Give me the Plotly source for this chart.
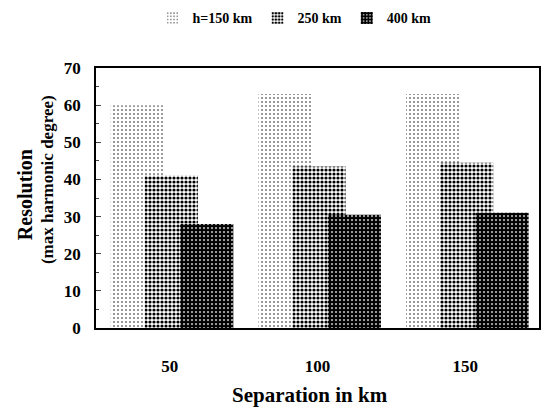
import plotly.graph_objects as go

categories = ["50", "100", "150"]
series_names = ["h=150 km", "250 km", "400 km"]
h150 = [60, 63, 63]
h250 = [41, 43.5, 44.5]
h400 = [28, 30.5, 31]

values = [h150, h250, h400]
offsets = [-0.40, -0.17, 0.07]
fgcols = ["#777777", "black", "black"]
solid = [0.2, 0.5, 0.8]
sizes = [4, 4, 4]

fig = go.Figure()
for name, v, off, fc, s, sz in zip(series_names, values, offsets, fgcols, solid, sizes):
    fig.add_trace(go.Bar(
        x=categories, y=v, name=name, offset=off, width=0.36,
        marker=dict(color="white", line=dict(width=0),
                    pattern=dict(shape=".", fgcolor=fc, bgcolor="white",
                                 solidity=s, size=sz, fillmode="replace")),
    ))

font = "Liberation Serif"
fig.update_layout(
    barmode="overlay",
    width=543, height=407,
    margin=dict(l=96, r=4, t=68, b=79, autoexpand=False),
    paper_bgcolor="white", plot_bgcolor="white",
    font=dict(family=font, color="black"),
    showlegend=True,
    legend=dict(orientation="h", x=0.448, xanchor="center", yref="container",
                y=0.955, yanchor="middle",
                font=dict(size=14, family=font, weight="bold"),
                itemwidth=30, traceorder="normal"),
    xaxis=dict(showline=True, linecolor="black", linewidth=1.5, mirror=True,
               ticks="", tickfont=dict(size=17, weight="bold"),
               ticklabelstandoff=22, automargin=False,
               range=[-0.5, 2.5]),
    yaxis=dict(showline=True, linecolor="black", linewidth=1.5, mirror=True,
               range=[0, 70], dtick=10, ticks="inside", ticklen=5,
               minor=dict(dtick=5, ticks="inside", ticklen=3),
               showgrid=False, zeroline=False, automargin=False,
               tickfont=dict(size=17, weight="bold"), ticklabelstandoff=10),
    annotations=[
        dict(text="Separation in km", xref="paper", yref="paper", x=0.483, y=-0.258,
             xanchor="center", yanchor="middle", showarrow=False,
             font=dict(size=21, weight="bold")),
        dict(text="Resolution", xref="paper", yref="paper", x=-0.160, y=0.5115,
             xanchor="center", yanchor="middle", showarrow=False, textangle=-90,
             font=dict(size=20, weight="bold")),
        dict(text="(max harmonic degree)", xref="paper", yref="paper", x=-0.1106, y=0.569,
             xanchor="center", yanchor="middle", showarrow=False, textangle=-90,
             font=dict(size=17, weight="bold")),
    ],
)
fig.write_html("out.html")
